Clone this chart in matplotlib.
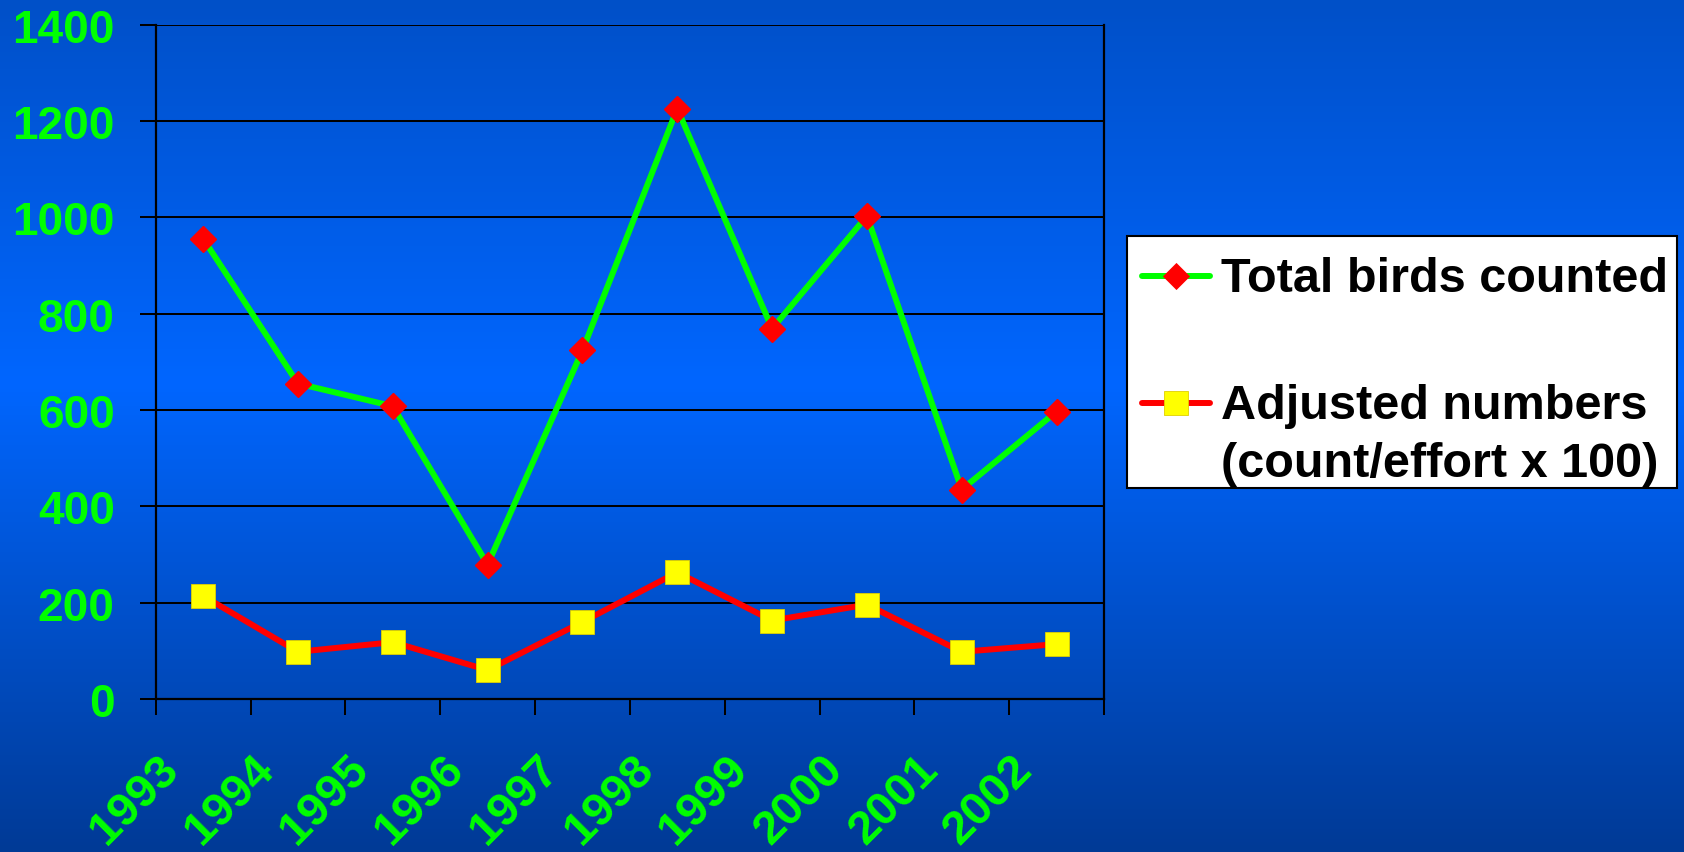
"""Bird count chart: total birds counted vs. effort-adjusted numbers, 1993-2002."""

import numpy as np
import matplotlib
matplotlib.use("Agg")
import matplotlib.pyplot as plt
from matplotlib.colors import LinearSegmentedColormap
from matplotlib.patches import Rectangle
from matplotlib.lines import Line2D
from matplotlib.transforms import ScaledTranslation

years = ["1993", "1994", "1995", "1996", "1997", "1998", "1999", "2000", "2001", "2002"]
total_birds = [956, 655, 608, 279, 724, 1226, 769, 1003, 435, 597]
adjusted = [214, 98, 118, 60, 160, 263, 163, 196, 98, 114]
y_ticks = [0, 200, 400, 600, 800, 1000, 1200, 1400]

GREEN = "#00FF00"
RED = "#FF0000"
YELLOW = "#FFFF00"
FONT = "Liberation Sans"
LW = 4.3

W, H, DPI = 1684, 853, 100
fig = plt.figure(figsize=(W / DPI, H / DPI), dpi=DPI)

# vertical blue gradient behind everything
bg = fig.add_axes([0, 0, 1, 1], zorder=-10)
cmap = LinearSegmentedColormap.from_list(
    "bg", [(0.0, "#0050C8"), (0.45, "#0066FF"), (1.0, "#003A96")])
bg.imshow(np.linspace(0, 1, 256)[:, None], aspect="auto", cmap=cmap,
          extent=[0, 1, 0, 1], origin="upper")
bg.set_axis_off()


def fx(px):
    return px / W


def fy(py):
    return 1 - py / H


ax = fig.add_axes([fx(155.7), fy(700), fx(1104) - fx(155.7), fy(25.8) - fy(700)])
ax.set_facecolor("none")

x = np.arange(len(years)) + 0.5
ax.plot(x, total_birds, color=GREEN, lw=LW, marker="D", ms=13.3,
        mfc=RED, mec=RED, zorder=4)
ax.plot(x, adjusted, color=RED, lw=LW, marker="s", ms=17.3,
        mfc=YELLOW, mec="#E0D000", mew=0.6, zorder=4)

ax.set_xlim(0, len(years))
ax.set_ylim(0, 1400)
ax.set_yticks(y_ticks)
ax.yaxis.grid(True, color="black", lw=1.45)
ax.set_axisbelow(True)

# boundary ticks as major, year labels on minor ticks at category centres
ax.set_xticks(np.arange(len(years) + 1))
ax.set_xticklabels([])
ax.set_xticks(x, minor=True)
ax.set_xticklabels(years, minor=True, rotation=45, ha="center", va="center",
                   rotation_mode="anchor", fontsize=34, fontweight="bold",
                   color=GREEN, fontfamily=FONT)
ax.tick_params(axis="x", which="major", length=11.5, width=1.45, direction="out",
               color="black")
ax.tick_params(axis="x", which="minor", length=0, pad=72)
offset = ScaledTranslation(-68 / DPI, 0, fig.dpi_scale_trans)
for lab in ax.get_xticklabels(minor=True):
    lab.set_transform(lab.get_transform() + offset)

ax.tick_params(axis="y", length=11.5, width=1.45, direction="out", pad=18)
for lab in ax.get_yticklabels():
    lab.set_fontsize(33)
    lab.set_fontweight("bold")
    lab.set_color(GREEN)
    lab.set_fontfamily(FONT)

for side in ["left", "right", "bottom"]:
    ax.spines[side].set_color("black")
    ax.spines[side].set_linewidth(1.6)
ax.spines["top"].set_visible(False)

# manual legend box
fig.patches.append(Rectangle((fx(1127), fy(489)), fx(1677) - fx(1127), fy(237) - fy(489),
                             transform=fig.transFigure, facecolor="white",
                             edgecolor="black", lw=1.5, zorder=5))
entries = [
    (277, GREEN, "D", 13.3, RED, RED, ["Total birds counted"]),
    (404, RED, "s", 17.3, YELLOW, "#E0D000", ["Adjusted numbers", "(count/effort x 100)"]),
]
for ypx, lc, mk, ms, mfc, mec, lines in entries:
    fig.lines.append(Line2D([fx(1142), fx(1210)], [fy(ypx), fy(ypx)],
                            transform=fig.transFigure, color=lc, lw=LW,
                            solid_capstyle="round", zorder=6))
    fig.lines.append(Line2D([fx(1176)], [fy(ypx)], transform=fig.transFigure,
                            marker=mk, ms=ms, mfc=mfc, mec=mec, mew=0.6,
                            linestyle="none", zorder=7))
    for i, txt in enumerate(lines):
        fig.text(fx(1221), fy(ypx + 3 + 58 * i), txt, fontsize=35, fontweight="bold",
                 color="black", fontfamily=FONT, va="center", ha="left", zorder=8)

fig.savefig("out.png", dpi=DPI)
